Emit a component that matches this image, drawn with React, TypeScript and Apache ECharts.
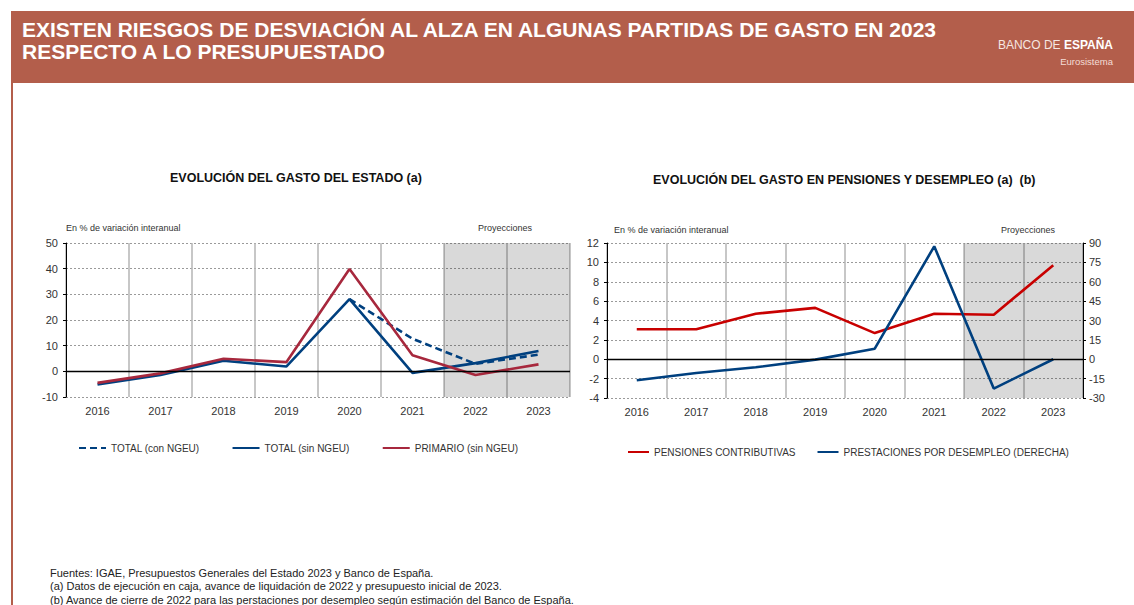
import React, { useEffect, useRef } from "react";
import * as echarts from "echarts";

// ---------- data ----------
const years = ["2016", "2017", "2018", "2019", "2020", "2021", "2022", "2023"];
const projectionYears = ["2022", "2023"];

// Left chart: Evolución del gasto del Estado (% variación interanual)
const totalConNGEU = [null, null, null, null, 28.1, 12.7, 2.9, 6.5];
const totalSinNGEU = [-5.1, -1.4, 4.1, 1.9, 28.1, -0.6, 3.2, 7.9];
const primarioSinNGEU = [-4.5, -0.8, 4.9, 3.6, 39.9, 6.3, -1.4, 2.7];

// Right chart: Evolución del gasto en pensiones y desempleo
const pensiones = [3.1, 3.1, 4.7, 5.3, 2.7, 4.7, 4.6, 9.7];
const desempleo = [-16.2, -10.6, -6.2, -0.3, 8.2, 87.4, -22.7, 0];

// axis ranges [min, max, interval]
const leftAxisRange = [-10, 50, 10];
const pensAxisRange = [-4, 12, 2];
const desAxisRange = [-30, 90, 15];

const seriesNames = {
  con: "TOTAL (con NGEU)",
  sin: "TOTAL (sin NGEU)",
  prim: "PRIMARIO (sin NGEU)",
  pens: "PENSIONES CONTRIBUTIVAS",
  des: "PRESTACIONES POR DESEMPLEO (DERECHA)",
};

const titleLines = [
  "EXISTEN RIESGOS DE DESVIACIÓN AL ALZA EN ALGUNAS PARTIDAS DE GASTO EN 2023",
  "RESPECTO A LO PRESUPUESTADO",
];
const footerLines = [
  "Fuentes: IGAE, Presupuestos Generales del Estado 2023 y Banco de España.",
  "(a) Datos de ejecución en caja, avance de liquidación de 2022 y presupuesto inicial de 2023.",
  "(b) Avance de cierre de 2022 para las perstaciones por desempleo según estimación del Banco de España.",
];

// ---------- styles ----------
const FONT = "'Liberation Sans', Arial, Helvetica, sans-serif";
const BLUE = "#00407f";
const RED_L = "#a7283d";
const RED_R = "#c80000";
const HEADER = "#b35e4b";
const LABEL = "#333333";

const xAxisFor = (gridIndex: number) => ({
  type: "category",
  gridIndex,
  data: years,
  boundaryGap: true,
  axisLine: { show: false },
  axisTick: { show: false },
  axisLabel: { color: LABEL, fontSize: 11, fontFamily: FONT, margin: 8 },
  splitLine: { show: true, lineStyle: { color: "#b4b4b4", width: 1.5 } },
});

const yAxisFor = (gridIndex: number, r: number[], position = "left", split = true) => ({
  type: "value",
  gridIndex,
  position,
  min: r[0],
  max: r[1],
  interval: r[2],
  axisLine: { show: true, lineStyle: { color: "#000", width: 1 } },
  axisTick: { show: true, length: 3, lineStyle: { color: "#000" } },
  axisLabel: {
    color: LABEL,
    fontSize: 11,
    fontFamily: FONT,
    margin: position === "left" ? 8 : 6,
  },
  splitLine: { show: split, lineStyle: { color: "#9a9a9a", type: [2, 2], width: 1 } },
});

const shadeSeries = (xAxisIndex: number, yAxisIndex: number) => ({
  type: "custom",
  xAxisIndex,
  yAxisIndex,
  silent: true,
  data: projectionYears.map((y) => [y, 0]),
  encode: { x: 0, y: 1 },
  renderItem: (params: any, api: any) => {
    const cs = params.coordSys;
    const cx = api.coord([api.value(0), api.value(1)])[0];
    const w = api.size([1, 0])[0];
    return {
      type: "rect",
      shape: { x: cx - w / 2, y: cs.y, width: w, height: cs.height },
      style: { fill: "rgba(0,0,0,0.15)" },
    };
  },
});

const zeroLine = {
  silent: true,
  symbol: ["none", "none"],
  label: { show: false },
  lineStyle: { color: "#000", type: "solid", width: 1.3 },
  data: [{ yAxis: 0 }],
};

export default function App() {
  const ref = useRef<HTMLDivElement>(null);

  useEffect(() => {
    if (!ref.current) return;
    const chart = echarts.init(ref.current, undefined, { renderer: "svg" });

    const smallText = (text: string, x: number, y: number, align = "left") => ({
      type: "text",
      x,
      y,
      style: {
        text,
        fontSize: 9,
        fontFamily: FONT,
        fill: LABEL,
        textAlign: align,
        textVerticalAlign: "middle",
      },
    });

    const legendCommon = {
      itemHeight: 4,
      itemStyle: { opacity: 0 },
      textStyle: { fontSize: 10, color: LABEL, fontFamily: FONT },
    };

    const option: any = {
      animation: false,
      textStyle: { fontFamily: FONT },
      grid: [
        { left: 66, top: 243, width: 504, height: 154 },
        { left: 607, top: 243, width: 476, height: 155 },
      ],
      xAxis: [xAxisFor(0), xAxisFor(1)],
      yAxis: [
        yAxisFor(0, leftAxisRange),
        yAxisFor(1, pensAxisRange),
        yAxisFor(1, desAxisRange, "right", false),
      ],
      legend: [
        {
          ...legendCommon,
          data: [seriesNames.con, seriesNames.sin, seriesNames.prim],
          left: 73,
          top: 438,
          itemWidth: 27,
          itemGap: 32,
        },
        {
          ...legendCommon,
          data: [seriesNames.pens, seriesNames.des],
          left: 622,
          top: 442,
          itemWidth: 21,
          itemGap: 21,
        },
      ],
      series: [
        shadeSeries(0, 0),
        shadeSeries(1, 1),
        {
          name: seriesNames.sin,
          type: "line",
          xAxisIndex: 0,
          yAxisIndex: 0,
          data: totalSinNGEU,
          symbol: "none",
          lineStyle: { color: BLUE, width: 2.6 },
          itemStyle: { color: BLUE },
          markLine: zeroLine,
        },
        {
          name: seriesNames.con,
          type: "line",
          xAxisIndex: 0,
          yAxisIndex: 0,
          data: totalConNGEU,
          symbol: "none",
          lineStyle: { color: BLUE, width: 2.6, type: [7, 4] },
          itemStyle: { color: BLUE },
        },
        {
          name: seriesNames.prim,
          type: "line",
          xAxisIndex: 0,
          yAxisIndex: 0,
          data: primarioSinNGEU,
          symbol: "none",
          lineStyle: { color: RED_L, width: 2.6 },
          itemStyle: { color: RED_L },
        },
        {
          name: seriesNames.pens,
          type: "line",
          xAxisIndex: 1,
          yAxisIndex: 1,
          data: pensiones,
          symbol: "none",
          lineStyle: { color: RED_R, width: 2.6 },
          itemStyle: { color: RED_R },
          markLine: zeroLine,
        },
        {
          name: seriesNames.des,
          type: "line",
          xAxisIndex: 1,
          yAxisIndex: 2,
          data: desempleo,
          symbol: "none",
          lineStyle: { color: BLUE, width: 2.6 },
          itemStyle: { color: BLUE },
        },
      ],
      graphic: [
        { type: "rect", shape: { x: 11, y: 11, width: 1123, height: 72 }, style: { fill: HEADER } },
        { type: "rect", shape: { x: 11, y: 83, width: 2, height: 522 }, style: { fill: HEADER } },
        {
          type: "text",
          x: 22,
          y: 18,
          style: {
            text: titleLines.join("\n"),
            fontSize: 21,
            fontWeight: "bold",
            fontFamily: FONT,
            fill: "#ffffff",
            lineHeight: 22,
          },
        },
        {
          type: "text",
          x: 1113,
          y: 45,
          style: {
            text: "{a|BANCO DE }{b|ESPAÑA}",
            textAlign: "right",
            textVerticalAlign: "middle",
            rich: {
              a: { fontSize: 12, fontFamily: FONT, fill: "#f6e6e1", color: "#f6e6e1" },
              b: { fontSize: 12, fontWeight: "bold", fontFamily: FONT, fill: "#ffffff", color: "#ffffff" },
            },
          },
        },
        {
          type: "text",
          x: 1113,
          y: 61,
          style: {
            text: "Eurosistema",
            textAlign: "right",
            textVerticalAlign: "middle",
            fontSize: 9.5,
            fontFamily: FONT,
            fill: "#f3ddd6",
          },
        },
        {
          type: "text",
          x: 170,
          y: 178,
          style: {
            text: "EVOLUCIÓN DEL GASTO DEL ESTADO (a)",
            textAlign: "left",
            textVerticalAlign: "middle",
            fontSize: 12.5,
            fontWeight: "bold",
            fontFamily: FONT,
            fill: "#111",
          },
        },
        {
          type: "text",
          x: 653,
          y: 180,
          style: {
            text: "EVOLUCIÓN DEL GASTO EN PENSIONES Y DESEMPLEO (a)  (b)",
            textAlign: "left",
            textVerticalAlign: "middle",
            fontSize: 12.5,
            fontWeight: "bold",
            fontFamily: FONT,
            fill: "#111",
          },
        },
        smallText("En % de variación interanual", 66, 228),
        smallText("Proyecciones", 505, 228, "center"),
        smallText("En % de variación interanual", 614, 230),
        smallText("Proyecciones", 1028, 230, "center"),
        {
          type: "text",
          x: 50,
          y: 566,
          style: {
            text: footerLines.join("\n"),
            fontSize: 11,
            fontFamily: FONT,
            fill: "#222",
            lineHeight: 13.5,
          },
        },
      ],
    };

    chart.setOption(option);
    return () => chart.dispose();
  }, []);

  return (
    <div
      ref={ref}
      style={{ position: "absolute", left: 0, top: 0, width: 1134, height: 605, background: "#fff" }}
    />
  );
}
